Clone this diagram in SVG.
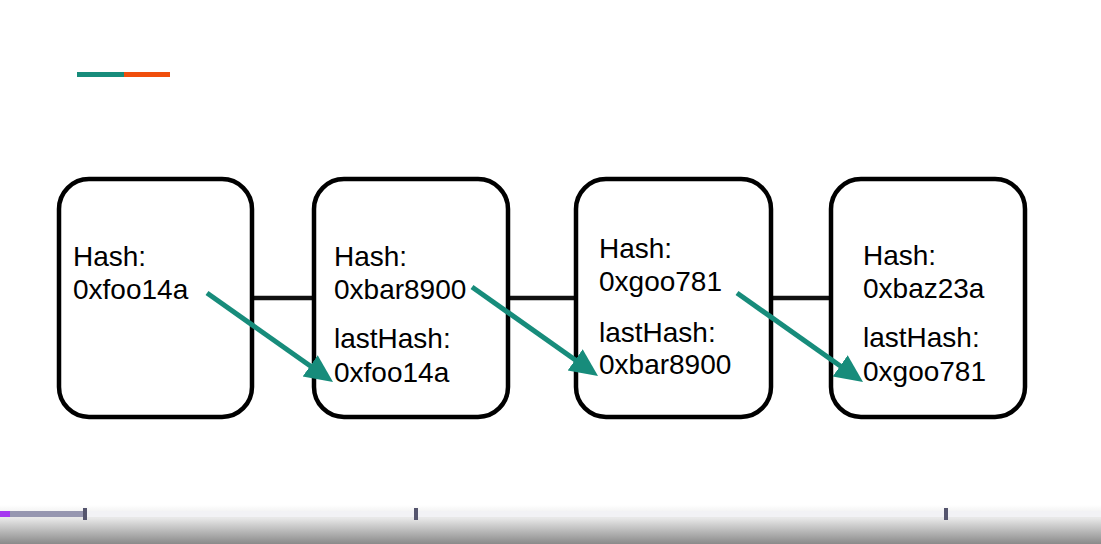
<svg xmlns="http://www.w3.org/2000/svg" width="1101" height="544" viewBox="0 0 1101 544">
<style>
.box{fill:#fff;stroke:#000;stroke-width:4.5}
.t{font-family:"Liberation Sans",Arial,sans-serif;font-size:28px;fill:#000}
.link{stroke:#111;stroke-width:4.5}
.arr{stroke:#178c7b;stroke-width:5;fill:none;marker-end:url(#ah)}
</style>
<defs>
<marker id="ah" markerUnits="userSpaceOnUse" markerWidth="30" markerHeight="28" refX="8" refY="13" orient="auto" viewBox="0 0 30 28">
<path d="M0,0 L28,13 L0,26 z" fill="#178c7b"/>
</marker>
<linearGradient id="bar" x1="0" y1="0" x2="0" y2="1">
<stop offset="0" stop-color="#ffffff"/>
<stop offset="0.35" stop-color="#e6e6e6"/>
<stop offset="1" stop-color="#8a8a8a"/>
</linearGradient>
</defs>
<rect width="1101" height="544" fill="#fff"/>
<g id="accent">
<rect x="77" y="72" width="47" height="5" fill="#178c7b"/>
<rect x="124" y="72" width="46" height="5" fill="#f04e0c"/>
</g>
<g id="connectors">
<line class="link" x1="252" y1="298" x2="314" y2="298"/>
<line class="link" x1="508" y1="298" x2="576" y2="298"/>
<line class="link" x1="771" y1="298" x2="831" y2="298"/>
</g>
<g id="block1">
<rect class="box" x="59" y="179" width="193" height="238" rx="30"/>
<text class="t" x="73" y="266">Hash:</text>
<text class="t" x="73" y="299">0xfoo14a</text>
</g>
<g id="block2">
<rect class="box" x="314" y="179" width="194" height="238" rx="30"/>
<text class="t" x="334" y="266">Hash:</text>
<text class="t" x="334" y="299">0xbar8900</text>
<text class="t" x="334" y="348">lastHash:</text>
<text class="t" x="334" y="382">0xfoo14a</text>
</g>
<g id="block3">
<rect class="box" x="576" y="179" width="195" height="238" rx="30"/>
<text class="t" x="599" y="258">Hash:</text>
<text class="t" x="599" y="291">0xgoo781</text>
<text class="t" x="599" y="342">lastHash:</text>
<text class="t" x="599" y="374">0xbar8900</text>
</g>
<g id="block4">
<rect class="box" x="831" y="179" width="194" height="238" rx="30"/>
<text class="t" x="863" y="265">Hash:</text>
<text class="t" x="863" y="298">0xbaz23a</text>
<text class="t" x="863" y="347">lastHash:</text>
<text class="t" x="863" y="381">0xgoo781</text>
</g>
<g id="arrows">
<line class="arr" x1="207" y1="293" x2="316.7" y2="370.5"/>
<line class="arr" x1="472" y1="287" x2="581.7" y2="364.5"/>
<line class="arr" x1="737" y1="293" x2="846.7" y2="370.5"/>
</g>
<g id="player">
<rect x="0" y="505" width="1101" height="39" fill="url(#bar)"/>
<rect x="0" y="511" width="1101" height="6" fill="#f2f2f5"/>
<rect x="0" y="511" width="85" height="6" fill="#9696b0"/>
<rect x="0" y="511" width="10" height="6" fill="#a638f0"/>
<rect x="83" y="508" width="4" height="12" fill="#55556e"/>
<rect x="414" y="508" width="4" height="12" fill="#55556e"/>
<rect x="944" y="508" width="4" height="12" fill="#55556e"/>
</g>
</svg>
